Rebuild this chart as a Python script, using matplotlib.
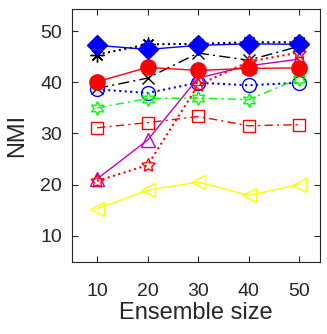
import matplotlib
matplotlib.use("Agg")
import matplotlib.pyplot as plt

plt.rcParams["font.family"] = ["Liberation Sans", "DejaVu Sans"]

ensemble_size = [10, 20, 30, 40, 50]

# NMI per method
blue_diamond = [47.2, 46.4, 47.2, 47.5, 47.4]
black_star = [45.4, 47.4, 47.5, 47.8, 47.8]
black_x = [38.8, 40.8, 45.7, 44.3, 47.0]
red_dot = [40.1, 42.9, 42.3, 42.7, 42.8]
blue_circle = [38.6, 37.9, 39.9, 39.4, 39.9]
green_hex = [35.0, 36.8, 36.9, 36.6, 40.7]
red_square = [31.1, 32.1, 33.3, 31.5, 31.7]
magenta_tri = [21.1, 28.7, 40.8, 43.2, 44.5]
red_pent = [20.7, 23.8, 39.4, 44.0, 45.8]
yellow_tri = [15.3, 18.9, 20.5, 17.9, 20.0]

fig = plt.figure(figsize=(3.27, 3.34), dpi=100)
ax = fig.add_axes([0.220, 0.216, 0.759, 0.757])

ms = 10
ax.plot(ensemble_size, black_x, color="k", ls=(0, (8, 3, 1.5, 3)), lw=1,
        marker="x", ms=9, mew=1)
ax.plot(ensemble_size, black_star, color="k", ls=":", lw=1.5,
        marker=(8, 2, 0), ms=10, mew=1)
ax.plot(ensemble_size, blue_circle, color="b", ls=":", lw=1.5,
        marker="o", ms=ms, mfc="none", mew=1)
ax.plot(ensemble_size, green_hex, color="#00ff00", ls=(0, (6, 3, 1.5, 3)), lw=1,
        marker=(6, 1, 0), ms=ms, mfc="none", mew=1)
ax.plot(ensemble_size, red_square, color="r", ls=(0, (6, 3, 1.5, 3)), lw=1,
        marker="s", ms=9, mfc="none", mew=1)
ax.plot(ensemble_size, magenta_tri, color="m", ls="-", lw=1,
        marker="^", ms=ms, mfc="none", mew=1)
ax.plot(ensemble_size, red_pent, color="r", ls=":", lw=1.5,
        marker=(5, 1, 0), ms=ms, mfc="none", mew=1)
ax.plot(ensemble_size, yellow_tri, color="#ffff00", ls="-", lw=1,
        marker="<", ms=ms, mfc="none", mew=1)
ax.plot(ensemble_size, red_dot, color="r", ls="-", lw=1,
        marker="o", ms=ms + 1, mfc="r", mew=1)
ax.plot(ensemble_size, blue_diamond, color="b", ls="-", lw=1,
        marker="D", ms=ms, mfc="b", mew=1)

ax.set_xlim(5, 54.2)
ax.set_ylim(4.9, 54.3)
ax.set_xticks(ensemble_size)
ax.set_yticks([10, 20, 30, 40, 50])
ax.tick_params(direction="in", top=True, right=True, labelsize=14,
               length=4, width=0.8, pad=7, colors="#262626")
ax.tick_params(axis="x", pad=15)
for s in ax.spines.values():
    s.set_linewidth(0.8)
    s.set_color("#262626")

ax.set_xlabel("Ensemble size", fontsize=17, labelpad=2, color="#262626")
ax.set_ylabel("NMI", fontsize=17, labelpad=9, color="#262626")

fig.savefig("out.png", dpi=100)
